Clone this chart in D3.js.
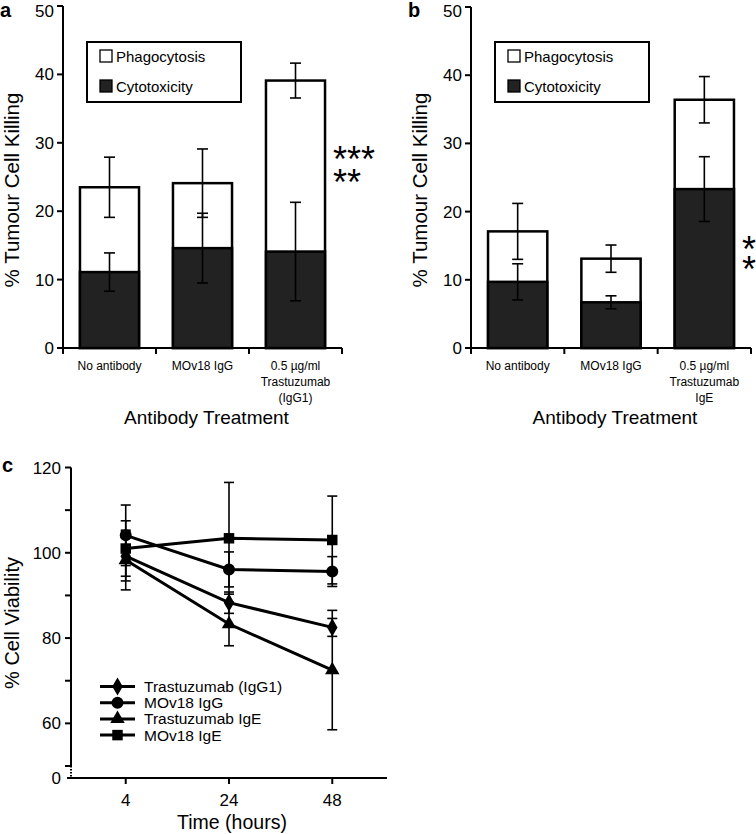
<!DOCTYPE html>
<html>
<head>
<meta charset="utf-8">
<script src="https://cdn.jsdelivr.net/npm/d3@7"></script>
<style>
  html, body { margin: 0; padding: 0; background: #fff; }
  svg text { font-family: "Liberation Sans", Arial, Helvetica, sans-serif; fill: #000; }
</style>
</head>
<body>
<svg id="chart" width="756" height="834"></svg>
<script>
// ---------- Data ----------
const treatmentsA = [["No antibody"], ["MOv18 IgG"], ["0.5 \u00b5g/ml", "Trastuzumab", "(IgG1)"]];
const treatmentsB = [["No antibody"], ["MOv18 IgG"], ["0.5 \u00b5g/ml", "Trastuzumab", "IgE"]];
const seriesNames = ["Phagocytosis", "Cytotoxicity"];

const cytoA = [11.1, 14.6, 14.1];
const phagoA = [12.4, 9.5, 25.0];     // stacked on top of cytotoxicity
const totalErrA = [4.4, 5.0, 2.55];
const cytoErrA = [2.8, 5.1, 7.2];

const cytoB = [9.7, 6.7, 23.3];
const phagoB = [7.4, 6.4, 13.1];
const totalErrB = [4.1, 2.0, 3.4];
const cytoErrB = [2.65, 0.95, 4.75];

const barTicks = [0, 10, 20, 30, 40, 50];

const hours = [4, 24, 48];
const lineNames = ["Trastuzumab (IgG1)", "MOv18 IgG", "Trastuzumab IgE", "MOv18 IgE"];
const lineSymbols = ["diamond", "circle", "triangle", "square"];
const trasIgG1 = [99.2, 88.3, 82.5];
const trasIgG1Err = [5.8, 2.5, 2.1];
const movIgG = [104.1, 96.1, 95.6];
const movIgGErr = [7.1, 4.1, 3.5];
const trasIgE = [98.3, 83.3, 72.5];
const trasIgEErr = [7.0, 5.1, 14.0];
const movIgE = [101.0, 103.4, 103.0];
const movIgEErr = [6.5, 13.1, 10.3];

const viabilityTicks = [50, 60, 70, 80, 90, 100, 110, 120];
const viabilityLabels = [0, 60, 80, 100, 120];

// ---------- Drawing ----------
const svg = d3.select("#chart");

function barPanel(opt) {
  const g = svg.append("g");
  const labels = opt.cats.map(c => c.join(" "));
  const x = d3.scaleBand().domain(labels).range([opt.x0, opt.x1])
    .paddingInner(0.365).paddingOuter(0.1825);
  const y = d3.scaleLinear().domain([0, 50]).range([348, opt.yTop]);
  const step = x.step();

  // bars
  labels.forEach((lab, i) => {
    const total = opt.cyto[i] + opt.phago[i];
    const bx = x(lab), bw = x.bandwidth();
    g.append("rect").attr("x", bx).attr("y", y(total)).attr("width", bw)
      .attr("height", y(0) - y(total)).attr("fill", "#fff")
      .attr("stroke", "#000").attr("stroke-width", 2.5);
    g.append("rect").attr("x", bx).attr("y", y(opt.cyto[i])).attr("width", bw)
      .attr("height", y(0) - y(opt.cyto[i])).attr("fill", "#222")
      .attr("stroke", "#000").attr("stroke-width", 2.5);
  });
  // error bars
  function err(cx, v, e) {
    g.append("line").attr("x1", cx).attr("x2", cx).attr("y1", y(v + e)).attr("y2", y(v - e))
      .attr("stroke", "#000").attr("stroke-width", 1.6);
    [v + e, v - e].forEach(t => g.append("line").attr("x1", cx - 5.5).attr("x2", cx + 5.5)
      .attr("y1", y(t)).attr("y2", y(t)).attr("stroke", "#000").attr("stroke-width", 1.6));
  }
  labels.forEach((lab, i) => {
    const cx = x(lab) + x.bandwidth() / 2;
    err(cx, opt.cyto[i] + opt.phago[i], opt.totalErr[i]);
    err(cx, opt.cyto[i], opt.cytoErr[i]);
  });

  // y axis
  g.append("line").attr("x1", opt.x0).attr("x2", opt.x0).attr("y1", y(50)).attr("y2", y(0))
    .attr("stroke", "#000").attr("stroke-width", 2);
  barTicks.forEach(t => {
    g.append("line").attr("x1", opt.x0 - 6).attr("x2", opt.x0).attr("y1", y(t)).attr("y2", y(t))
      .attr("stroke", "#000").attr("stroke-width", 2);
    g.append("text").attr("x", opt.x0 - 9).attr("y", Math.max(y(t) + 6, 17)).attr("text-anchor", "end")
      .attr("font-size", 17).text(t);
  });
  // x axis
  g.append("line").attr("x1", opt.x0 - 6).attr("x2", opt.x1).attr("y1", y(0)).attr("y2", y(0))
    .attr("stroke", "#000").attr("stroke-width", 2);
  const bounds = labels.map(l => x(l) + x.bandwidth() / 2 - step / 2);
  bounds.push(x(labels[labels.length - 1]) + x.bandwidth() / 2 + step / 2);
  bounds.forEach(b => g.append("line").attr("x1", b).attr("x2", b).attr("y1", y(0)).attr("y2", y(0) + 6)
    .attr("stroke", "#000").attr("stroke-width", 2));
  opt.cats.forEach((lines, i) => {
    const cx = x(labels[i]) + x.bandwidth() / 2;
    const t = g.append("text").attr("text-anchor", "middle").attr("font-size", 12);
    lines.forEach((ln, j) => t.append("tspan").attr("x", cx).attr("y", 370 + j * 16).text(ln));
  });
  g.append("text").attr("x", (opt.x0 + opt.x1) / 2 + 4).attr("y", 424).attr("text-anchor", "middle")
    .attr("font-size", 19).text("Antibody Treatment");
  g.append("text").attr("transform", `translate(${opt.x0 - 44},190) rotate(-90)`)
    .attr("text-anchor", "middle").attr("font-size", 20.5).text("% Tumour Cell Killing");
  g.append("text").attr("x", opt.labelX).attr("y", 17).attr("font-size", 20).attr("font-weight", "bold")
    .text(opt.panel);

  // legend
  const lx = opt.x0 + 24, ly = 42;
  g.append("rect").attr("x", lx).attr("y", ly).attr("width", 154).attr("height", 60)
    .attr("fill", "#fff").attr("stroke", "#000").attr("stroke-width", 2);
  seriesNames.forEach((s, i) => {
    const yy = ly + 8 + i * 30;
    g.append("rect").attr("x", lx + 13).attr("y", yy).attr("width", 12).attr("height", 12)
      .attr("fill", i === 0 ? "#fff" : "#222").attr("stroke", "#000").attr("stroke-width", 1.3);
    g.append("text").attr("x", lx + 29).attr("y", yy + 12).attr("font-size", 15).text(s);
  });

  // significance stars (one text element, lines as tspans)
  const st = g.append("text").attr("text-anchor", opt.stars.anchor).attr("font-size", 36);
  opt.stars.lines.forEach((ln, j) => st.append("tspan").attr("x", opt.stars.x)
    .attr("y", opt.stars.y + j * opt.stars.dy).text(ln));
}

barPanel({
  panel: "a", labelX: 0, x0: 63, x1: 342, yTop: 6, cats: treatmentsA,
  cyto: cytoA, phago: phagoA, totalErr: totalErrA, cytoErr: cytoErrA,
  stars: { lines: ["***", "**"], x: 333, y: 172, dy: 23, anchor: "start" }
});
barPanel({
  panel: "b", labelX: 408, x0: 471, x1: 751, yTop: 7, cats: treatmentsB,
  cyto: cytoB, phago: phagoB, totalErr: totalErrB, cytoErr: cytoErrB,
  stars: { lines: ["*", "*"], x: 749, y: 262, dy: 20, anchor: "middle" }
});

// ---------- Panel c ----------
(function () {
  const g = svg.append("g");
  const ax = 71, axR = 387;
  const x = d3.scalePoint().domain(hours).range([ax, axR]).padding(0.53);
  const y = d3.scaleLinear().domain([0, 50, 120]).range([778, 766, 467.5]);

  // axes
  g.append("line").attr("x1", ax).attr("x2", ax).attr("y1", y(120)).attr("y2", y(50))
    .attr("stroke", "#000").attr("stroke-width", 2);
  g.append("line").attr("x1", ax).attr("x2", ax).attr("y1", y(50)).attr("y2", y(0))
    .attr("stroke", "#000").attr("stroke-width", 2).attr("stroke-dasharray", "1.5,1.5");
  viabilityTicks.forEach(t => g.append("line").attr("x1", ax - 6).attr("x2", ax)
    .attr("y1", y(t)).attr("y2", y(t)).attr("stroke", "#000").attr("stroke-width", 2));
  viabilityLabels.forEach(t => g.append("text").attr("x", ax - 10).attr("y", y(t) + 6)
    .attr("text-anchor", "end").attr("font-size", 17).text(t));
  g.append("line").attr("x1", ax - 4).attr("x2", axR).attr("y1", y(0)).attr("y2", y(0))
    .attr("stroke", "#000").attr("stroke-width", 2.2);
  hours.forEach(h => {
    g.append("line").attr("x1", x(h)).attr("x2", x(h)).attr("y1", y(0)).attr("y2", y(0) + 6)
      .attr("stroke", "#000").attr("stroke-width", 2);
    g.append("text").attr("x", x(h)).attr("y", 806).attr("text-anchor", "middle")
      .attr("font-size", 17).text(h);
  });
  g.append("text").attr("x", 232).attr("y", 829).attr("text-anchor", "middle")
    .attr("font-size", 19.5).text("Time (hours)");
  g.append("text").attr("transform", "translate(19,623) rotate(-90)").attr("text-anchor", "middle")
    .attr("font-size", 20).text("% Cell Viability");
  g.append("text").attr("x", 2).attr("y", 472).attr("font-size", 20).attr("font-weight", "bold").text("c");

  const series = [
    { v: trasIgG1, e: trasIgG1Err },
    { v: movIgG, e: movIgGErr },
    { v: trasIgE, e: trasIgEErr },
    { v: movIgE, e: movIgEErr }
  ];
  const symType = { diamond: d3.symbolDiamond, circle: d3.symbolCircle, triangle: d3.symbolTriangle, square: d3.symbolSquare };
  const symSize = { diamond: 95, circle: 113, triangle: 90, square: 110 };

  // error bars
  series.forEach(s => {
    hours.forEach((h, i) => {
      const cx = x(h);
      g.append("line").attr("x1", cx).attr("x2", cx).attr("y1", y(s.v[i] + s.e[i])).attr("y2", y(s.v[i] - s.e[i]))
        .attr("stroke", "#000").attr("stroke-width", 1.6);
      [s.v[i] + s.e[i], s.v[i] - s.e[i]].forEach(t => g.append("line")
        .attr("x1", cx - 5).attr("x2", cx + 5).attr("y1", y(t)).attr("y2", y(t))
        .attr("stroke", "#000").attr("stroke-width", 1.6));
    });
  });
  const line = d3.line().x((d, i) => x(hours[i])).y(d => y(d));
  series.forEach((s, k) => {
    g.append("path").attr("d", line(s.v)).attr("fill", "none").attr("stroke", "#000").attr("stroke-width", 3);
    const sym = d3.symbol().type(symType[lineSymbols[k]]).size(symSize[lineSymbols[k]]);
    s.v.forEach((v, i) => g.append("path").attr("d", sym())
      .attr("transform", `translate(${x(hours[i])},${y(v)})`).attr("fill", "#000"));
  });

  // legend
  lineNames.forEach((n, k) => {
    const yy = 686.5 + k * 16.2;
    g.append("line").attr("x1", 100).attr("x2", 135).attr("y1", yy).attr("y2", yy)
      .attr("stroke", "#000").attr("stroke-width", 3);
    const sym = d3.symbol().type(symType[lineSymbols[k]]).size(symSize[lineSymbols[k]]);
    g.append("path").attr("d", sym()).attr("transform", `translate(117.5,${yy})`).attr("fill", "#000");
    g.append("text").attr("x", 144).attr("y", yy + 5.5).attr("font-size", 15.5).text(n);
  });
})();
</script>
</body>
</html>
